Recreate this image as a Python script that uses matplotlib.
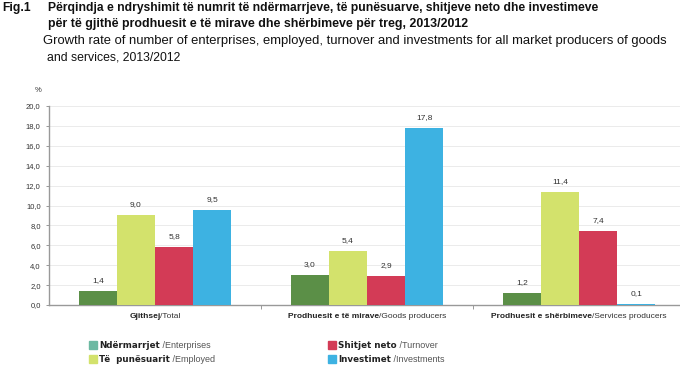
import matplotlib
matplotlib.use("Agg")
import matplotlib.pyplot as plt
from matplotlib.patches import Rectangle
import matplotlib.font_manager as fm

categories_bold = ["Gjithsej", "Prodhuesit e të mirave", "Prodhuesit e shërbimeve"]
categories_norm = ["/Total", "/Goods producers", "/Services producers"]
series_bold = ["Ndërmarrjet", "Të  punësuarit", "Shitjet neto", "Investimet"]
series_norm = [" /Enterprises", " /Employed", " /Turnover", " /Investments"]
enterprises = [1.4, 3.0, 1.2]
employed = [9.0, 5.4, 11.4]
turnover = [5.8, 2.9, 7.4]
investments = [9.5, 17.8, 0.1]
values = [enterprises, employed, turnover, investments]
yticks = [0, 2, 4, 6, 8, 10, 12, 14, 16, 18, 20]

bar_colors = ["#5b8f47", "#d3e26c", "#d33b56", "#3db2e2"]
legend_colors = ["#6cb9a2", "#d3e26c", "#d33b56", "#3db2e2"]

avail = {f.name for f in fm.fontManager.ttflist}
fam = "Liberation Sans Narrow" if "Liberation Sans Narrow" in avail else "Liberation Sans"
plt.rcParams['font.family'] = [fam, 'DejaVu Sans']

W, H = 680, 369
fig = plt.figure(figsize=(W / 100, H / 100), dpi=100)
ax = fig.add_axes([49 / W, (H - 305) / H, 631 / W, 199 / H])

bw = 0.18
offs = [-1.5, -0.5, 0.5, 1.5]
xs = list(range(len(categories_bold)))
for i, vals in enumerate(values):
    pos = [x + offs[i] * bw for x in xs]
    ax.bar(pos, vals, width=bw, color=bar_colors[i], zorder=3, linewidth=0)
    for p, v in zip(pos, vals):
        ax.text(p, v + 0.7, f"{v:.1f}".replace(".", ","), ha="center", va="bottom",
                fontsize=6, color="#333333", zorder=4)

ax.set_ylim(0, 20)
ax.set_xlim(-0.5, -0.5 + 631 / 212)
ax.set_yticks(yticks)
ax.set_yticklabels([f"{t:.1f}".replace(".", ",") for t in yticks], fontsize=5.5, color="#333333")
ax.yaxis.grid(True, color="#e8e8e8", linewidth=0.6, zorder=0)
ax.set_axisbelow(True)
ax.set_xticks([0.5, 1.5])
ax.set_xticklabels([])
ax.tick_params(axis="x", length=3, width=0.6, color="#888888", direction="out")
ax.tick_params(axis="y", length=2, width=0.6, color="#888888", pad=4)
for s in ["top", "right"]:
    ax.spines[s].set_visible(False)
ax.spines["left"].set_color("#999999")
ax.spines["bottom"].set_color("#999999")
ax.spines["left"].set_linewidth(1.0)
ax.spines["bottom"].set_linewidth(1.0)

ax.text(-0.012, 1.06, "%", transform=ax.transAxes, fontsize=5.5, ha="right", va="bottom", color="#333333")

fig.canvas.draw()
r = fig.canvas.get_renderer()

def width_px(t):
    return t.get_window_extent(renderer=r).width

# category labels: bold + normal, centered
for x, b, n in zip(xs, categories_bold, categories_norm):
    xp = ax.transData.transform((x, 0))[0]
    yp = (H - 317)
    tb = fig.text(0, yp / H, b, fontsize=6, fontweight="bold", va="center", ha="left", color="#222222")
    tn = fig.text(0, yp / H, n, fontsize=6, va="center", ha="left", color="#333333")
    wb, wn = width_px(tb), width_px(tn)
    start = xp - (wb + wn) / 2
    tb.set_x(start / W)
    tn.set_x((start + wb) / W)

# legend
leg_pos = [(89, 345), (89, 359), (328, 345), (328, 359)]
for (lx, ly), c, b, n in zip(leg_pos, legend_colors, series_bold, series_norm):
    fig.patches.append(Rectangle((lx / W, (H - ly - 4) / H), 8 / W, 8 / H, color=c,
                                 transform=fig.transFigure, figure=fig))
    tb = fig.text((lx + 10) / W, (H - ly) / H, b, fontsize=6.3, fontweight="bold", va="center",
                  ha="left", color="#222222", family=["DejaVu Sans"])
    wb = width_px(tb)
    fig.text((lx + 10 + wb) / W, (H - ly) / H, n, fontsize=6.5, va="center", ha="left", color="#555555")

# titles, fitted to target widths
def fit(x, y, s, target_w, weight="normal", size=10):
    t = fig.text(x / W, (H - y) / H, s, fontsize=size, fontweight=weight, va="center", ha="left",
                 color="#111111")
    w = width_px(t)
    t.set_fontsize(size * target_w / w)
    return t

t1 = fit(48, 8, "Përqindja e ndryshimit të numrit të ndërmarrjeve, të punësuarve, shitjeve neto dhe investimeve", 552, "bold")
fig.text(2 / W, (H - 8) / H, "Fig.1", fontsize=t1.get_fontsize(), fontweight="bold", va="center",
         ha="left", color="#111111")
fit(48, 24, "për të gjithë prodhuesit e të mirave dhe shërbimeve për treg, 2013/2012", 422, "bold")
fit(43, 41, "Growth rate of number of enterprises, employed, turnover and investments for all market producers of goods", 624)
fit(47, 58, "and services, 2013/2012", 134)

fig.savefig("out.png", dpi=100)
